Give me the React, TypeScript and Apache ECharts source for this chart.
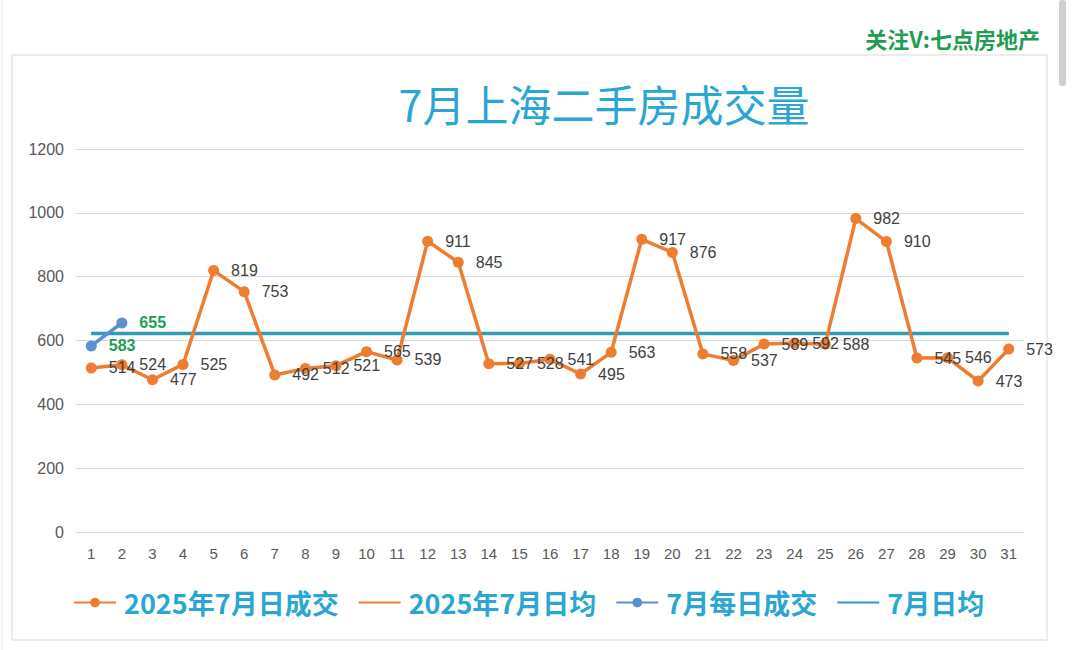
import React, { useEffect, useRef } from "react";
import * as echarts from "echarts";

const days = Array.from({ length: 31 }, (_, i) => String(i + 1));
const daily2025 = [514, 524, 477, 525, 819, 753, 492, 512, 521, 565, 539, 911, 845, 527, 528, 541, 495, 563, 917, 876, 558, 537, 589, 592, 588, 982, 910, 545, 546, 473, 573];
const avg2025 = Array(31).fill(622);
const dailyJuly = [583, 655];
const avgJuly = Array(31).fill(622);
const yTicks = [0, 200, 400, 600, 800, 1000, 1200];

const CJK = '"Noto Sans CJK SC", "Noto Sans", sans-serif';

export default function App() {
  const ref = useRef<HTMLDivElement>(null);
  useEffect(() => {
    if (!ref.current) return;
    const chart = echarts.init(ref.current, undefined, { renderer: "svg" });
    chart.setOption({
      animation: false,
      backgroundColor: "#ffffff",
      textStyle: { fontFamily: "Arial, Liberation Sans, sans-serif" },
      graphic: [
        { type: "rect", shape: { x: 12, y: 55, width: 1035, height: 585 }, style: { fill: "none", stroke: "#d9d9d9", lineWidth: 1 } },
        { type: "line", shape: { x1: 2, y1: 0, x2: 2, y2: 650 }, style: { stroke: "#ececec", lineWidth: 1 } },
        { type: "rect", shape: { x: 1059, y: 0, width: 7, height: 86, r: 3 }, style: { fill: "#cfcfcf" } },
        { type: "text", right: 40, top: 27, style: { text: "关注V:七点房地产", fill: "#1f9d55", font: `bold 22px ${CJK}` } },
      ],
      title: {
        text: "7月上海二手房成交量",
        left: 599,
        textAlign: "center",
        top: 76,
        textStyle: { color: "#2aa6d2", fontSize: 43, fontWeight: "normal", fontFamily: CJK },
      },
      legend: {
        bottom: 29,
        left: 68,
        itemWidth: 42,
        itemHeight: 12,
        itemGap: 19,
        textStyle: { color: "#2aa6d2", fontSize: 27, fontWeight: "bold", fontFamily: CJK, padding: [0, 0, 0, 3] },
        data: ["2025年7月日成交", "2025年7月日均", "7月每日成交", "7月日均"],
      },
      grid: { left: 76, right: 56, top: 149, bottom: 118, containLabel: false },
      xAxis: {
        type: "category",
        data: days,
        axisLine: { show: false },
        axisTick: { show: false },
        axisLabel: { color: "#595959", fontSize: 15, margin: 14 },
      },
      yAxis: {
        type: "value",
        min: yTicks[0],
        max: yTicks[yTicks.length - 1],
        interval: 200,
        axisLine: { show: false },
        axisTick: { show: false },
        axisLabel: { color: "#595959", fontSize: 16, margin: 12, formatter: (v: number) => String(v) },
        splitLine: { lineStyle: { color: "#d9d9d9", width: 1 } },
      },
      series: [
        {
          name: "2025年7月日均",
          type: "line",
          data: avg2025,
          symbol: "none",
          lineStyle: { color: "#ED7D31", width: 3 },
          itemStyle: { color: "#ED7D31", opacity: 0 },
          z: 1,
        },
        {
          name: "7月日均",
          type: "line",
          data: avgJuly,
          symbol: "none",
          lineStyle: { color: "#2e9db5", width: 3.5 },
          itemStyle: { color: "#2e9db5", opacity: 0 },
          z: 2,
        },
        {
          name: "2025年7月日成交",
          type: "line",
          data: daily2025,
          symbol: "circle",
          symbolSize: 11,
          lineStyle: { color: "#ED7D31", width: 3.5 },
          itemStyle: { color: "#ED7D31" },
          label: { show: true, position: "right", distance: 12, color: "#404040", fontSize: 16 },
          z: 3,
        },
        {
          name: "7月每日成交",
          type: "line",
          data: dailyJuly,
          symbol: "circle",
          symbolSize: 11,
          lineStyle: { color: "#5b8fd0", width: 3.5 },
          itemStyle: { color: "#5b8fd0" },
          label: { show: true, position: "right", distance: 12, color: "#1f9d55", fontSize: 16, fontWeight: "bold" },
          z: 4,
        },
      ],
    });
    return () => chart.dispose();
  }, []);
  return <div ref={ref} style={{ position: "fixed", left: 0, top: 0, width: 1080, height: 650 }} />;
}
